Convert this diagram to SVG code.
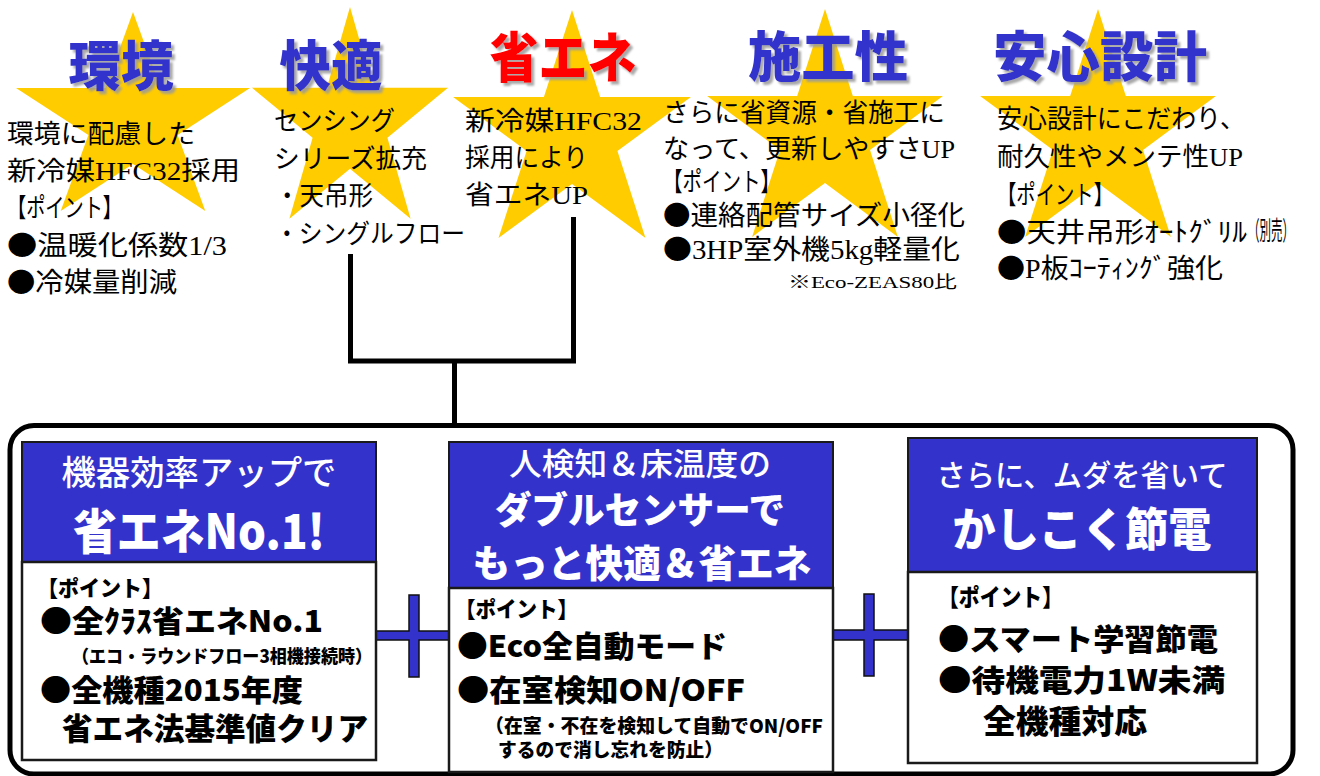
<svg xmlns="http://www.w3.org/2000/svg" width="1320" height="776" viewBox="0 0 1320 776">
<defs>
<style>
.star{fill:#FFCC00;}
.title{font-family:"Noto Sans CJK JP","Noto Sans",sans-serif;font-weight:900;font-size:54px;text-anchor:middle;filter:url(#shadow);}
.blue{fill:#3333CC;}
.red{fill:#FF0000;}
.t{font-family:"Liberation Serif","Noto Sans CJK JP",serif;font-size:26px;fill:#000;}
.tb{font-size:27px;}
.small{font-size:17px;}
.dot{font-family:"Noto Sans CJK JP",sans-serif;}
.hd{fill:#3333CC;stroke:#1a1a1a;stroke-width:2;}
.bd{fill:#fff;stroke:#1a1a1a;stroke-width:2.5;}
.hw{font-family:"Noto Sans CJK JP","Noto Sans",sans-serif;fill:#fff;text-anchor:middle;font-weight:500;}
.hb{font-family:"Noto Sans CJK JP","Noto Sans",sans-serif;fill:#fff;text-anchor:middle;font-weight:900;}
.b{font-family:"Noto Sans CJK JP","Noto Sans",sans-serif;fill:#000;font-weight:900;}
.line{fill:none;stroke:#000;stroke-width:5;}
.cross{fill:#3333CC;stroke:#111;stroke-width:1.5;}
</style>
<filter id="shadow" x="-10%" y="-20%" width="130%" height="150%"><feDropShadow dx="3" dy="3" stdDeviation="1" flood-color="#9a9a9a" flood-opacity="0.85"/></filter>
</defs>
<rect width="1320" height="776" fill="#fff"/>

<g id="stars">
<polygon class="star" points="133,12 160.6,88 250,88 177.6,135 205.3,211 133,164 60.7,211 88.4,135 16,88 105.4,88"/>
<polygon class="star" points="350,7 373.1,87.8 448,87.8 387.4,137.8 410.6,218.7 350,168.7 289.4,218.7 312.6,137.8 252,87.8 326.9,87.8"/>
<polygon class="star" points="572,10 600.1,97.1 690.9,97.1 617.4,150.9 645.5,237.9 572,184.1 498.5,237.9 526.6,150.9 453.1,97.1 543.9,97.1"/>
<polygon class="star" points="825,9 852.8,96.1 942.9,96.1 870,149.9 897.9,236.9 825,183.1 752.1,236.9 780,149.9 707.1,96.1 797.2,96.1"/>
<polygon class="star" points="1098,9 1125.8,96.1 1215.9,96.1 1143,149.9 1170.9,236.9 1098,183.1 1025.1,236.9 1053,149.9 980.1,96.1 1070.2,96.1"/>
</g>

<g id="connectors">
<polyline class="line" points="350.5,254 350.5,361 573.5,361 573.5,217"/>
<line class="line" x1="454.5" y1="361" x2="454.5" y2="426"/>
<rect x="10" y="425.5" width="1283" height="348.5" rx="24" fill="none" stroke="#000" stroke-width="5"/>
<path class="cross" d="M409,595 H419 V631 H449 V640 H419 V677 H409 V640 H376 V631 H409 Z"/>
<path class="cross" d="M864,594 H874 V630 H908 V640 H874 V676 H864 V640 H833 V630 H864 Z"/>
</g>

<g id="node-kankyo">
<text class="title blue" x="121" y="86" textLength="105" lengthAdjust="spacingAndGlyphs">環境</text>
<text class="t" x="7" y="143" textLength="188" lengthAdjust="spacingAndGlyphs">環境に配慮した</text>
<text class="t" x="7" y="180" textLength="233" lengthAdjust="spacingAndGlyphs">新冷媒HFC32採用</text>
<text class="t" x="7" y="217" textLength="115" lengthAdjust="spacingAndGlyphs">【ポイント】</text>
<text class="t tb" x="7" y="255" textLength="220" lengthAdjust="spacingAndGlyphs"><tspan class="dot">●</tspan>温暖化係数1/3</text>
<text class="t tb" x="7" y="292" textLength="170" lengthAdjust="spacingAndGlyphs"><tspan class="dot">●</tspan>冷媒量削減</text>
</g>

<g id="node-kaiteki">
<text class="title blue" x="331" y="86" textLength="103" lengthAdjust="spacingAndGlyphs">快適</text>
<text class="t" x="274" y="130" textLength="121" lengthAdjust="spacingAndGlyphs">センシング</text>
<text class="t" x="274" y="168" textLength="153" lengthAdjust="spacingAndGlyphs">シリーズ拡充</text>
<text class="t" x="275" y="205" textLength="98" lengthAdjust="spacingAndGlyphs">・天吊形</text>
<text class="t" x="275" y="243" textLength="190" lengthAdjust="spacingAndGlyphs">・シングルフロー</text>
</g>

<g id="node-shoene">
<text class="title red" x="563" y="78" textLength="147" lengthAdjust="spacingAndGlyphs">省エネ</text>
<text class="t" x="465" y="130" textLength="177" lengthAdjust="spacingAndGlyphs">新冷媒HFC32</text>
<text class="t" x="465" y="167" textLength="123" lengthAdjust="spacingAndGlyphs">採用により</text>
<text class="t" x="465" y="204" textLength="123" lengthAdjust="spacingAndGlyphs">省エネUP</text>
</g>

<g id="node-sekou">
<text class="title blue" x="828" y="77" textLength="160" lengthAdjust="spacingAndGlyphs">施工性</text>
<text class="t" x="663" y="122" textLength="282" lengthAdjust="spacingAndGlyphs">さらに省資源・省施工に</text>
<text class="t" x="663" y="158" textLength="292" lengthAdjust="spacingAndGlyphs">なって、更新しやすさUP</text>
<text class="t" x="663" y="191" textLength="117" lengthAdjust="spacingAndGlyphs">【ポイント】</text>
<text class="t tb" x="663" y="225" textLength="302" lengthAdjust="spacingAndGlyphs"><tspan class="dot">●</tspan>連絡配管サイズ小径化</text>
<text class="t tb" x="663" y="259" textLength="297" lengthAdjust="spacingAndGlyphs"><tspan class="dot">●</tspan>3HP室外機5kg軽量化</text>
<text class="t small" x="788" y="288" textLength="169" lengthAdjust="spacingAndGlyphs">※Eco-ZEAS80比</text>
</g>

<g id="node-anshin">
<text class="title blue" x="1100" y="77" textLength="214" lengthAdjust="spacingAndGlyphs">安心設計</text>
<text class="t" x="997" y="128" textLength="248" lengthAdjust="spacingAndGlyphs">安心設計にこだわり、</text>
<text class="t" x="997" y="166" textLength="246" lengthAdjust="spacingAndGlyphs">耐久性やメンテ性UP</text>
<text class="t" x="997" y="204" textLength="116" lengthAdjust="spacingAndGlyphs">【ポイント】</text>
<text class="t tb" x="997" y="242" textLength="250" lengthAdjust="spacingAndGlyphs"><tspan class="dot">●</tspan>天井吊形ｵｰﾄｸﾞﾘﾙ</text>
<text class="t" x="1248" y="240" font-size="14" textLength="46" lengthAdjust="spacingAndGlyphs">（別売）</text>
<text class="t tb" x="997" y="278" textLength="226" lengthAdjust="spacingAndGlyphs"><tspan class="dot">●</tspan>P板ｺｰﾃｨﾝｸﾞ強化</text>
</g>

<g id="node-box1">
<rect class="hd" x="22" y="442" width="354" height="120"/>
<rect class="bd" x="22" y="562" width="354" height="198"/>
<text class="hw" x="199" y="485" font-size="34" textLength="275" lengthAdjust="spacingAndGlyphs">機器効率アップで</text>
<text class="hb" x="199" y="549" font-size="48" textLength="252" lengthAdjust="spacingAndGlyphs">省エネNo.1!</text>
<text class="b" x="37" y="596" font-size="22" textLength="126" lengthAdjust="spacingAndGlyphs">【ポイント】</text>
<text class="b" x="40" y="632" font-size="30" textLength="283" lengthAdjust="spacingAndGlyphs">●全ｸﾗｽ省エネNo.1</text>
<text class="b" x="72" y="663" font-size="18" textLength="300" lengthAdjust="spacingAndGlyphs">（エコ・ラウンドフロー3相機接続時）</text>
<text class="b" x="40" y="701" font-size="30" textLength="263" lengthAdjust="spacingAndGlyphs">●全機種2015年度</text>
<text class="b" x="62" y="740" font-size="31" textLength="306" lengthAdjust="spacingAndGlyphs">省エネ法基準値クリア</text>
</g>

<g id="node-box2">
<rect class="hd" x="449" y="442" width="384" height="146"/>
<rect class="bd" x="449" y="588" width="384" height="184"/>
<text class="hw" x="640" y="475" font-size="31" textLength="262" lengthAdjust="spacingAndGlyphs">人検知＆床温度の</text>
<text class="hb" x="640" y="524" font-size="37" textLength="290" lengthAdjust="spacingAndGlyphs">ダブルセンサーで</text>
<text class="hb" x="642" y="577" font-size="38" textLength="339" lengthAdjust="spacingAndGlyphs">もっと快適＆省エネ</text>
<text class="b" x="455" y="617" font-size="22" textLength="123" lengthAdjust="spacingAndGlyphs">【ポイント】</text>
<text class="b" x="457" y="657" font-size="30" textLength="270" lengthAdjust="spacingAndGlyphs">●Eco全自動モード</text>
<text class="b" x="457" y="701" font-size="30" textLength="288" lengthAdjust="spacingAndGlyphs">●在室検知ON/OFF</text>
<text class="b" x="485" y="733" font-size="19" textLength="338" lengthAdjust="spacingAndGlyphs">（在室・不在を検知して自動でON/OFF</text>
<text class="b" x="498" y="757" font-size="19" textLength="225" lengthAdjust="spacingAndGlyphs">するので消し忘れを防止）</text>
</g>

<g id="node-box3">
<rect class="hd" x="908" y="438" width="349" height="134"/>
<rect class="bd" x="908" y="572" width="349" height="191"/>
<text class="hw" x="1082" y="486" font-size="30" textLength="291" lengthAdjust="spacingAndGlyphs">さらに、ムダを省いて</text>
<text class="hb" x="1082" y="546" font-size="46" textLength="259" lengthAdjust="spacingAndGlyphs">かしこく節電</text>
<text class="b" x="938" y="606" font-size="24" textLength="125" lengthAdjust="spacingAndGlyphs">【ポイント】</text>
<text class="b" x="938" y="650" font-size="30" textLength="280" lengthAdjust="spacingAndGlyphs">●スマート学習節電</text>
<text class="b" x="938" y="691" font-size="30" textLength="287" lengthAdjust="spacingAndGlyphs">●待機電力1W未満</text>
<text class="b" x="983" y="733" font-size="32" textLength="164" lengthAdjust="spacingAndGlyphs">全機種対応</text>
</g>
</svg>
